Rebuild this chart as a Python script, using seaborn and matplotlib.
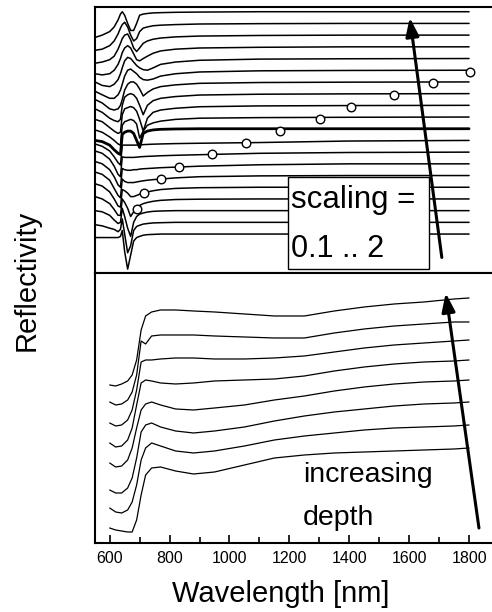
import numpy as np
import matplotlib
matplotlib.use("Agg")
import matplotlib.pyplot as plt
from matplotlib.patches import Rectangle
from matplotlib.ticker import MultipleLocator
import seaborn as sns

# ---------------- data ----------------
# upper panel: stacked, scaled spectra (profiles relative to their stacking offset)
top_wavelength = [551, 575, 600, 615, 628, 636, 642, 650, 660, 670, 680, 690,
                  700, 712, 726, 745, 770, 820, 900, 1100, 1400, 1800]
stack_offsets = [0, 1, 2, 3, 4, 5, 6, 7, 8, 9, 10, 11, 12, 13, 14, 15, 16, 17, 18, 19]
top_profiles = [
    [-0.3, -0.3, -0.3, -0.3, -0.3, -0.2, 0.3, -1.5, -3.0, -1.8, -0.6, -0.3, -0.2, -0.1, -0.05, -0.03, 0, 0, 0, 0, 0, 0],
    [-0.2, -0.3, -0.5, -0.6, -0.8, -0.6, 0.3, -1.0, -2.6, -2.0, -0.7, -0.35, -0.25, -0.15, -0.1, -0.05, -0.03, 0, 0, 0, 0, 0],
    [0.0, -0.1, -0.4, -0.8, -1.1, -1.0, 0.2, -0.5, -1.5, -2.2, -1.0, -0.5, -0.3, -0.2, -0.12, -0.06, -0.03, 0, 0, 0, 0, 0],
    [0.2, 0.0, -0.4, -0.9, -1.4, -1.4, 0.0, -0.3, -0.8, -1.5, -1.1, -0.75, -0.55, -0.4, -0.3, -0.2, -0.12, -0.05, -0.02, 0, 0, 0],
    [0.3, 0.1, -0.4, -1.0, -1.6, -1.7, -0.2, -0.3, -0.5, -0.8, -0.8, -0.7, -0.6, -0.5, -0.4, -0.3, -0.2, -0.1, -0.04, 0, 0, 0],
    [0.3, 0.1, -0.4, -1.1, -1.7, -1.9, -0.3, -0.5, -0.6, -0.6, -0.6, -0.55, -0.5, -0.45, -0.4, -0.35, -0.3, -0.2, -0.1, -0.03, 0, 0],
    [0.2, 0.0, -0.5, -1.1, -1.8, -2.0, -0.4, -0.5, -0.55, -0.55, -0.5, -0.5, -0.45, -0.42, -0.4, -0.37, -0.33, -0.28, -0.2, -0.08, 0, 0],
    [0.1, -0.1, -0.6, -1.2, -1.9, -2.1, -0.4, -0.45, -0.45, -0.45, -0.45, -0.43, -0.4, -0.38, -0.36, -0.34, -0.31, -0.27, -0.22, -0.1, -0.03, 0],
    [-0.3, -0.5, -0.9, -1.4, -1.9, -2.1, -0.4, -0.4, -0.4, -0.4, -0.4, -0.4, -0.38, -0.36, -0.34, -0.32, -0.3, -0.27, -0.24, -0.18, -0.05, 0],
    [-1.0, -1.1, -1.4, -1.8, -2.1, -2.2, -0.5, -0.3, -0.2, -0.2, -0.4, -1.0, -1.6, -0.4, -0.2, -0.1, -0.05, -0.02, 0, 0, 0, 0],
    [-1.1, -1.3, -1.7, -2.0, -2.3, -2.4, -0.7, -0.4, -0.3, -0.2, -0.3, -0.6, -1.8, -1.2, -0.7, -0.5, -0.35, -0.2, -0.1, -0.05, -0.02, 0],
    [-1.2, -1.4, -1.9, -2.2, -2.4, -2.3, -0.8, -0.3, -0.2, -0.1, -0.2, -0.5, -1.2, -2.2, -1.1, -0.6, -0.4, -0.25, -0.12, -0.05, -0.02, 0],
    [-1.3, -1.6, -2.1, -2.3, -2.4, -2.2, -1.0, -0.3, -0.1, 0.0, -0.1, -0.4, -1.0, -1.8, -1.0, -0.6, -0.4, -0.25, -0.12, -0.05, -0.02, 0],
    [-1.5, -1.8, -2.3, -2.4, -2.3, -2.0, -1.5, -0.7, -0.2, 0.0, 0.0, -0.2, -0.6, -1.2, -0.9, -0.6, -0.4, -0.25, -0.12, -0.05, -0.02, 0],
    [-1.8, -2.1, -2.4, -2.4, -2.1, -1.7, -1.2, -0.5, 0.0, 0.1, -0.1, -0.3, -0.6, -0.8, -0.85, -0.75, -0.5, -0.3, -0.15, -0.05, -0.02, 0],
    [-2.0, -2.3, -2.4, -2.2, -1.8, -1.3, -0.8, -0.2, 0.1, 0.0, -0.3, -0.6, -0.8, -0.95, -1.0, -0.8, -0.5, -0.3, -0.15, -0.05, -0.02, 0],
    [-2.3, -2.4, -2.3, -2.0, -1.5, -1.0, -0.5, -0.1, 0.1, -0.1, -0.6, -1.1, -1.2, -1.0, -0.8, -0.55, -0.35, -0.2, -0.1, -0.04, 0, 0],
    [-2.4, -2.3, -2.1, -1.8, -1.2, -0.7, -0.3, 0.0, 0.1, -0.4, -1.1, -1.4, -1.1, -0.7, -0.5, -0.35, -0.25, -0.15, -0.08, -0.03, 0, 0],
    [-2.3, -2.2, -1.9, -1.5, -0.9, -0.4, -0.1, 0.1, -0.3, -1.0, -1.5, -1.3, -0.7, -0.4, -0.3, -0.2, -0.15, -0.1, -0.05, -0.02, 0, 0],
    [-2.2, -2.0, -1.7, -1.3, -0.7, -0.2, 0.0, -0.3, -1.0, -1.6, -1.6, -1.0, -0.3, -0.2, -0.15, -0.1, -0.08, -0.05, -0.03, 0, 0, 0],
]
bold_curve = 9

# circle markers in the upper panel
circle_wavelength = [692, 716, 773, 830, 941, 1055, 1169, 1303, 1407, 1551, 1679, 1803]
circle_level = [2.14, 3.50, 4.70, 5.73, 6.84, 7.78, 8.80, 9.83, 10.85, 11.88, 12.91, 13.85]

# lower panel: reflectivity spectra at increasing depth
bot_wavelength = [600, 620, 640, 660, 675, 690, 705, 720, 740, 770, 820, 880,
                  950, 1050, 1150, 1250, 1350, 1450, 1550, 1650, 1750, 1800]
depth_spectra = [
    [15.8, 15.7, 15.9, 16.2, 16.8, 18.3, 21.3, 22.7, 23.1, 23.3, 23.3, 23.2, 23.1, 22.9, 22.7, 22.7, 23.2, 23.6, 23.9, 24.1, 24.4, 24.5],
    [14.1, 13.8, 13.9, 14.3, 15.1, 16.8, 20.2, 19.9, 20.7, 20.8, 20.8, 20.8, 20.7, 20.6, 20.5, 20.5, 21.0, 21.4, 21.7, 21.9, 22.1, 22.1],
    [12.0, 11.7, 11.8, 12.3, 13.3, 15.3, 18.1, 18.3, 18.3, 18.4, 18.5, 18.5, 18.4, 18.4, 18.5, 18.7, 19.1, 19.5, 19.8, 20.0, 20.2, 20.3],
    [10.0, 9.6, 9.7, 10.3, 11.5, 13.8, 16.0, 16.3, 16.2, 16.0, 15.9, 16.0, 16.2, 16.3, 16.4, 16.7, 17.2, 17.6, 17.9, 18.1, 18.2, 18.3],
    [8.0, 7.6, 7.7, 8.3, 9.5, 11.5, 13.3, 13.9, 14.1, 13.8, 13.4, 13.3, 13.5, 13.8, 14.3, 14.7, 15.2, 15.6, 15.9, 16.1, 16.2, 16.3],
    [5.3, 5.0, 5.0, 5.5, 6.5, 8.5, 11.1, 11.8, 12.0, 11.6, 11.2, 11.0, 11.2, 11.6, 12.2, 12.7, 13.1, 13.4, 13.7, 13.9, 14.0, 14.1],
    [3.5, 3.1, 3.0, 3.3, 4.1, 5.8, 8.3, 9.5, 10.0, 9.7, 9.2, 9.0, 9.2, 9.7, 10.3, 10.7, 11.0, 11.3, 11.5, 11.6, 11.7, 11.8],
    [1.5, 1.3, 1.2, 1.1, 1.1, 2.3, 4.8, 6.8, 7.5, 7.6, 7.2, 6.9, 7.1, 7.8, 8.5, 8.8, 9.0, 9.1, 9.2, 9.3, 9.4, 9.5],
]

x_ticks = [600, 800, 1000, 1200, 1400, 1600, 1800]
x_ticklabels = ["600", "800", "1000", "1200", "1400", "1600", "1800"]

# ---------------- figure ----------------
sns.set_theme(style="white")
plt.rcParams["font.family"] = ["Liberation Sans", "DejaVu Sans"]
plt.rcParams["text.color"] = "black"
plt.rcParams["xtick.color"] = "black"
plt.rcParams["axes.labelcolor"] = "black"

fig = plt.figure(figsize=(4.92, 6.12), dpi=100)
ax_top = fig.add_axes([0.1931, 0.5539, 0.809, 0.4346])
ax_bot = fig.add_axes([0.1931, 0.11275, 0.809, 0.4412])

for i, (off, prof) in enumerate(zip(stack_offsets, top_profiles)):
    sns.lineplot(x=top_wavelength, y=off + np.array(prof), ax=ax_top,
                 color="black", lw=2.0 if i == bold_curve else 1.1,
                 estimator=None, sort=False)

sns.scatterplot(x=circle_wavelength, y=circle_level, ax=ax_top, s=38,
                color="white", edgecolor="black", linewidth=1.0, zorder=4)

for spec in depth_spectra:
    sns.lineplot(x=bot_wavelength, y=spec, ax=ax_bot, color="black", lw=0.9,
                 estimator=None, sort=False)

xlim = (551, 1880)
for ax in (ax_top, ax_bot):
    ax.set_xlim(*xlim)
    ax.set_ylabel("")
    ax.set_xlabel("")
    ax.set_yticks([])
    for s in ax.spines.values():
        s.set_color("black")
        s.set_linewidth(1.5)

ax_top.set_ylim(-3.33, 19.4)
ax_bot.set_ylim(0, 27)
ax_top.set_xticks([])

ax_bot.set_xticks(x_ticks)
ax_bot.set_xticklabels(x_ticklabels)
ax_bot.xaxis.set_minor_locator(MultipleLocator(100))
ax_bot.tick_params(axis="x", which="both", direction="in", bottom=True, top=False,
                   colors="black", labelcolor="black", width=1.2, labelsize=11.5, pad=6)
ax_bot.tick_params(axis="x", which="major", length=6)
ax_bot.tick_params(axis="x", which="minor", length=4)

# scaling box
ax_top.add_patch(Rectangle((1196, -3.0), 1665 - 1196, 4.87 + 3.0, facecolor="white",
                           edgecolor="black", lw=1.0, zorder=5))
ax_top.text(1204, 2.22, "scaling =", fontsize=22.5, color="black",
            va="baseline", ha="left", zorder=6)
ax_top.text(1204, -1.97, "0.1 .. 2", fontsize=22, color="black",
            va="baseline", ha="left", zorder=6)

arrow_style = dict(arrowstyle="-|>,head_length=0.7,head_width=0.25", color="black",
                   lw=2.2, mutation_scale=16, shrinkA=0, shrinkB=0)
ax_top.annotate("", xy=(1602, 18.5), xytext=(1709, -2.0), arrowprops=arrow_style, zorder=7)

ax_bot.text(1246, 6.1, "increasing", fontsize=20.5, color="black", va="baseline", ha="left")
ax_bot.text(1246, 1.8, "depth", fontsize=20.5, color="black", va="baseline", ha="left")
ax_bot.annotate("", xy=(1722, 25.0), xytext=(1833, 1.5), arrowprops=arrow_style, zorder=7)

fig.text(0.571, 0.0163, "Wavelength [nm]", fontsize=21, color="black",
         ha="center", va="baseline")
fig.text(0.0549, 0.542, "Reflectivity", fontsize=21, color="black",
         ha="center", va="center", rotation=90)

fig.savefig("out.png", dpi=100, facecolor="white")
